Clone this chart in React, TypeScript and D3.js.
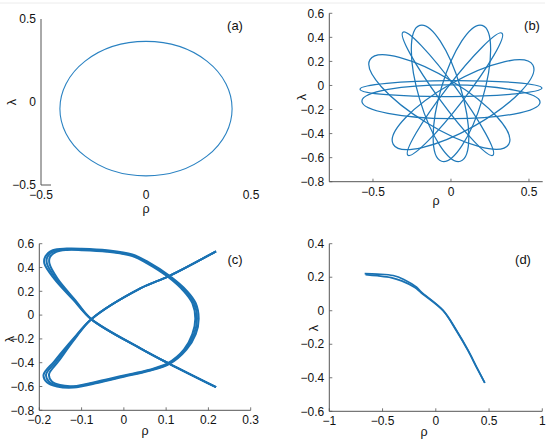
import React from 'react';
import * as d3 from 'd3';

const LINE = '#1a72b3';
const AXIS = '#555555';
const FONT = '"Liberation Sans", Arial, Helvetica, sans-serif';

// ---------- Panel (a) ----------
const aXTicks = [-0.5, 0, 0.5];
const aYTicks = [-0.5, 0, 0.5];
const aOrbitCentre = [0, -0.04];
const aOrbitRadii = [0.41, 0.405];

// ---------- Panel (b) ----------
const bXTicks = [-0.5, 0, 0.5];
const bYTicks = [-0.8, -0.6, -0.4, -0.2, 0, 0.2, 0.4, 0.6];
// each loop: one tip, opposite tip, and its thickness (minor/major)
const bLoopTipA = [
  [-0.583, -0.031], [-0.571, -0.131], [-0.519, 0.215], [0.525, 0.17],
  [-0.308, 0.443], [0.327, 0.435], [-0.2, 0.5], [0.2, 0.5],
];
const bLoopTipB = [
  [0.583, -0.022], [0.571, -0.139], [0.37, -0.49], [-0.37, -0.49],
  [0.269, -0.58], [-0.276, -0.58], [0.06, -0.63], [-0.06, -0.63],
];
const bLoopAspect = [0.088, 0.19, 0.3, 0.3, 0.13, 0.13, 0.3, 0.3];

// ---------- Panel (c) ----------
const cXTicks = [-0.2, -0.1, 0, 0.1, 0.2, 0.3];
const cYTicks = [-0.8, -0.6, -0.4, -0.2, 0, 0.2, 0.4, 0.6];
const cStrandOuter = [
  [0.218, 0.536], [0.108, 0.33], [0.039, 0.225], [-0.077, -0.034], [-0.119, -0.196],
  [-0.165, -0.39], [-0.19, -0.503], [-0.182, -0.565], [-0.158, -0.6], [-0.119, -0.609],
  [-0.06, -0.568], [0.0, -0.518], [0.058, -0.47], [0.108, -0.41], [0.148, -0.29],
  [0.17, -0.16], [0.177, -0.03], [0.17, 0.1], [0.15, 0.2], [0.108, 0.33],
  [0.057, 0.447], [0.02, 0.51], [-0.04, 0.545], [-0.1, 0.558], [-0.135, 0.559],
  [-0.168, 0.545], [-0.186, 0.49], [-0.188, 0.433], [-0.165, 0.307], [-0.119, 0.126],
  [-0.077, -0.034], [0.039, -0.279], [0.108, -0.41], [0.218, -0.606],
];
const cStrandMiddle = [
  [0.218, 0.536], [0.108, 0.33], [0.039, 0.225], [-0.077, -0.034], [-0.117, -0.196],
  [-0.16, -0.39], [-0.184, -0.5], [-0.177, -0.56], [-0.155, -0.594], [-0.119, -0.603],
  [-0.06, -0.562], [0.0, -0.513], [0.058, -0.466], [0.106, -0.407], [0.145, -0.29],
  [0.166, -0.16], [0.173, -0.03], [0.166, 0.1], [0.146, 0.2], [0.106, 0.326],
  [0.056, 0.441], [0.02, 0.503], [-0.04, 0.539], [-0.1, 0.552], [-0.135, 0.553],
  [-0.164, 0.538], [-0.181, 0.488], [-0.182, 0.433], [-0.161, 0.307], [-0.117, 0.126],
  [-0.077, -0.034], [0.039, -0.279], [0.108, -0.41], [0.218, -0.606],
];
const cStrandInner = [
  [0.218, 0.536], [0.108, 0.33], [0.039, 0.225], [-0.077, -0.034], [-0.115, -0.196],
  [-0.155, -0.39], [-0.177, -0.497], [-0.171, -0.555], [-0.151, -0.588], [-0.119, -0.597],
  [-0.06, -0.556], [0.0, -0.508], [0.058, -0.462], [0.104, -0.404], [0.142, -0.29],
  [0.162, -0.16], [0.169, -0.03], [0.162, 0.1], [0.142, 0.2], [0.104, 0.322],
  [0.055, 0.435], [0.02, 0.496], [-0.04, 0.533], [-0.1, 0.546], [-0.135, 0.547],
  [-0.16, 0.531], [-0.175, 0.486], [-0.176, 0.433], [-0.157, 0.307], [-0.115, 0.126],
  [-0.077, -0.034], [0.039, -0.279], [0.108, -0.41], [0.218, -0.606],
];

// ---------- Panel (d) ----------
const dXTicks = [-1, -0.5, 0, 0.5, 1];
const dYTicks = [-0.6, -0.4, -0.2, 0, 0.2, 0.4];
const dStrandUpper = [
  [-0.668, 0.222], [-0.55, 0.219], [-0.4, 0.21], [-0.3, 0.187], [-0.18, 0.14],
  [-0.135, 0.111], [0.069, 0.002], [0.195, -0.118], [0.304, -0.237], [0.383, -0.336],
  [0.46, -0.43],
];
const dStrandLower = [
  [-0.66, 0.216], [-0.55, 0.209], [-0.42, 0.198], [-0.32, 0.178], [-0.2, 0.14],
  [-0.135, 0.106], [0.069, 0.0], [0.195, -0.121], [0.304, -0.24], [0.383, -0.338],
  [0.46, -0.43],
];

const fmt = (v: number) => (v < 0 ? '\u2212' + String(Math.abs(v)) : String(v));

type AxesProps = {
  x: d3.ScaleLinear<number, number>;
  y: d3.ScaleLinear<number, number>;
  xTicks: number[];
  yTicks: number[];
  ticks?: boolean;
  stubOnly?: boolean;
  rho: [number, number];
  lambda: [number, number];
  tag: string;
  tagPos: [number, number];
};

function Axes({ x, y, xTicks, yTicks, ticks = true, stubOnly = false, rho, lambda, tag, tagPos }: AxesProps) {
  const [x0, x1] = x.range();
  const [yb, yt] = y.range();
  return (
    <g fontFamily={FONT} fontSize={12} fill="#111">
      <line x1={x0} x2={x0} y1={yt} y2={yb} stroke={AXIS} strokeWidth={1} />
      <line x1={x0} x2={stubOnly ? x0 + 10 : x1} y1={yb} y2={yb} stroke={AXIS} strokeWidth={1} />
      {ticks &&
        yTicks.map((t) => (
          <line key={'yt' + t} x1={x0} x2={x0 + 3} y1={y(t)} y2={y(t)} stroke={AXIS} strokeWidth={0.8} />
        ))}
      {ticks &&
        xTicks.map((t) => (
          <line key={'xt' + t} x1={x(t)} x2={x(t)} y1={yb} y2={yb - 3} stroke={AXIS} strokeWidth={0.8} />
        ))}
      {yTicks.map((t) => (
        <text key={'yl' + t} x={x0 - 5} y={y(t)} dy="0.35em" textAnchor="end">
          {fmt(t)}
        </text>
      ))}
      {xTicks.map((t) => (
        <text key={'xl' + t} x={x(t)} y={yb + 14} textAnchor="middle">
          {fmt(t)}
        </text>
      ))}
      <text x={rho[0]} y={rho[1]} textAnchor="middle" fontSize={12.5}>
        ρ
      </text>
      <text
        x={lambda[0]}
        y={lambda[1]}
        textAnchor="middle"
        dy="0.35em"
        fontSize={12.5}
        transform={`rotate(-90, ${lambda[0]}, ${lambda[1]})`}
      >
        λ
      </text>
      <text x={tagPos[0]} y={tagPos[1]} dy="0.35em" textAnchor="middle" fontSize={13}>
        {tag}
      </text>
    </g>
  );
}

export default function App() {
  const ax = d3.scaleLinear().domain([-0.5, 0.5]).range([41, 251]);
  const ay = d3.scaleLinear().domain([-0.5, 0.5]).range([185, 19]);

  const bx = d3.scaleLinear().domain([-0.78, 0.588]).range([329.3, 542.7]);
  const by = d3.scaleLinear().domain([-0.8, 0.6]).range([181.7, 13.3]);

  const cx = d3.scaleLinear().domain([-0.2, 0.3]).range([39.3, 250.7]);
  const cy = d3.scaleLinear().domain([-0.8, 0.6]).range([410.3, 243.7]);

  const dx = d3.scaleLinear().domain([-1, 1]).range([329.3, 542.3]);
  const dy = d3.scaleLinear().domain([-0.6, 0.4]).range([411.3, 243.7]);

  const cLine = d3
    .line<number[]>()
    .x((p) => cx(p[0]))
    .y((p) => cy(p[1]))
    .curve(d3.curveCatmullRom.alpha(0.5));
  const dLine = d3
    .line<number[]>()
    .x((p) => dx(p[0]))
    .y((p) => dy(p[1]))
    .curve(d3.curveCatmullRom.alpha(0.5));

  const loops = bLoopTipA.map((a, i) => {
    const b = bLoopTipB[i];
    const p1 = [bx(a[0]), by(a[1])];
    const p2 = [bx(b[0]), by(b[1])];
    const mx = (p1[0] + p2[0]) / 2;
    const my = (p1[1] + p2[1]) / 2;
    const len = Math.hypot(p2[0] - p1[0], p2[1] - p1[1]) / 2;
    const ang = (Math.atan2(p2[1] - p1[1], p2[0] - p1[0]) * 180) / Math.PI;
    return { mx, my, rx: len, ry: len * bLoopAspect[i], ang };
  });

  return (
    <svg
      width={550}
      height={445}
      viewBox="0 0 550 445"
      style={{ position: 'absolute', left: 0, top: 0, background: '#fff' }}
    >
      <rect x={0} y={0} width={550} height={445} fill="#fff" />
      <line x1={0} x2={545} y1={3} y2={3} stroke="#ececec" strokeWidth={1} />

      {/* (a) */}
      <Axes
        x={ax}
        y={ay}
        xTicks={aXTicks}
        yTicks={aYTicks}
        ticks={false}
        stubOnly
        rho={[146, 213]}
        lambda={[12, 102]}
        tag="(a)"
        tagPos={[235, 25]}
      />
      <ellipse
        cx={ax(aOrbitCentre[0])}
        cy={ay(aOrbitCentre[1])}
        rx={ax(aOrbitRadii[0]) - ax(0)}
        ry={ay(0) - ay(aOrbitRadii[1])}
        fill="none"
        stroke="#2a82c2"
        strokeWidth={1.1}
      />

      {/* (b) */}
      <Axes
        x={bx}
        y={by}
        xTicks={bXTicks}
        yTicks={bYTicks}
        rho={[436, 205]}
        lambda={[302, 97]}
        tag="(b)"
        tagPos={[532, 25]}
      />
      {loops.map((l, i) => (
        <ellipse
          key={i}
          cx={l.mx}
          cy={l.my}
          rx={l.rx}
          ry={l.ry}
          transform={`rotate(${l.ang}, ${l.mx}, ${l.my})`}
          fill="none"
          stroke="#1f79b9"
          strokeWidth={1.25}
        />
      ))}

      {/* (c) */}
      <Axes
        x={cx}
        y={cy}
        xTicks={cXTicks}
        yTicks={cYTicks}
        rho={[145, 435]}
        lambda={[10, 339]}
        tag="(c)"
        tagPos={[235, 259]}
      />
      {[cStrandOuter, cStrandMiddle, cStrandInner].map((s, i) => (
        <path key={i} d={cLine(s) || ''} fill="none" stroke={LINE} strokeWidth={2} strokeLinejoin="round" />
      ))}

      {/* (d) */}
      <Axes
        x={dx}
        y={dy}
        xTicks={dXTicks}
        yTicks={dYTicks}
        rho={[424, 436]}
        lambda={[314, 328]}
        tag="(d)"
        tagPos={[523, 259]}
      />
      {[dStrandUpper, dStrandLower].map((s, i) => (
        <path key={i} d={dLine(s) || ''} fill="none" stroke={LINE} strokeWidth={1.7} strokeLinejoin="round" />
      ))}
    </svg>
  );
}
